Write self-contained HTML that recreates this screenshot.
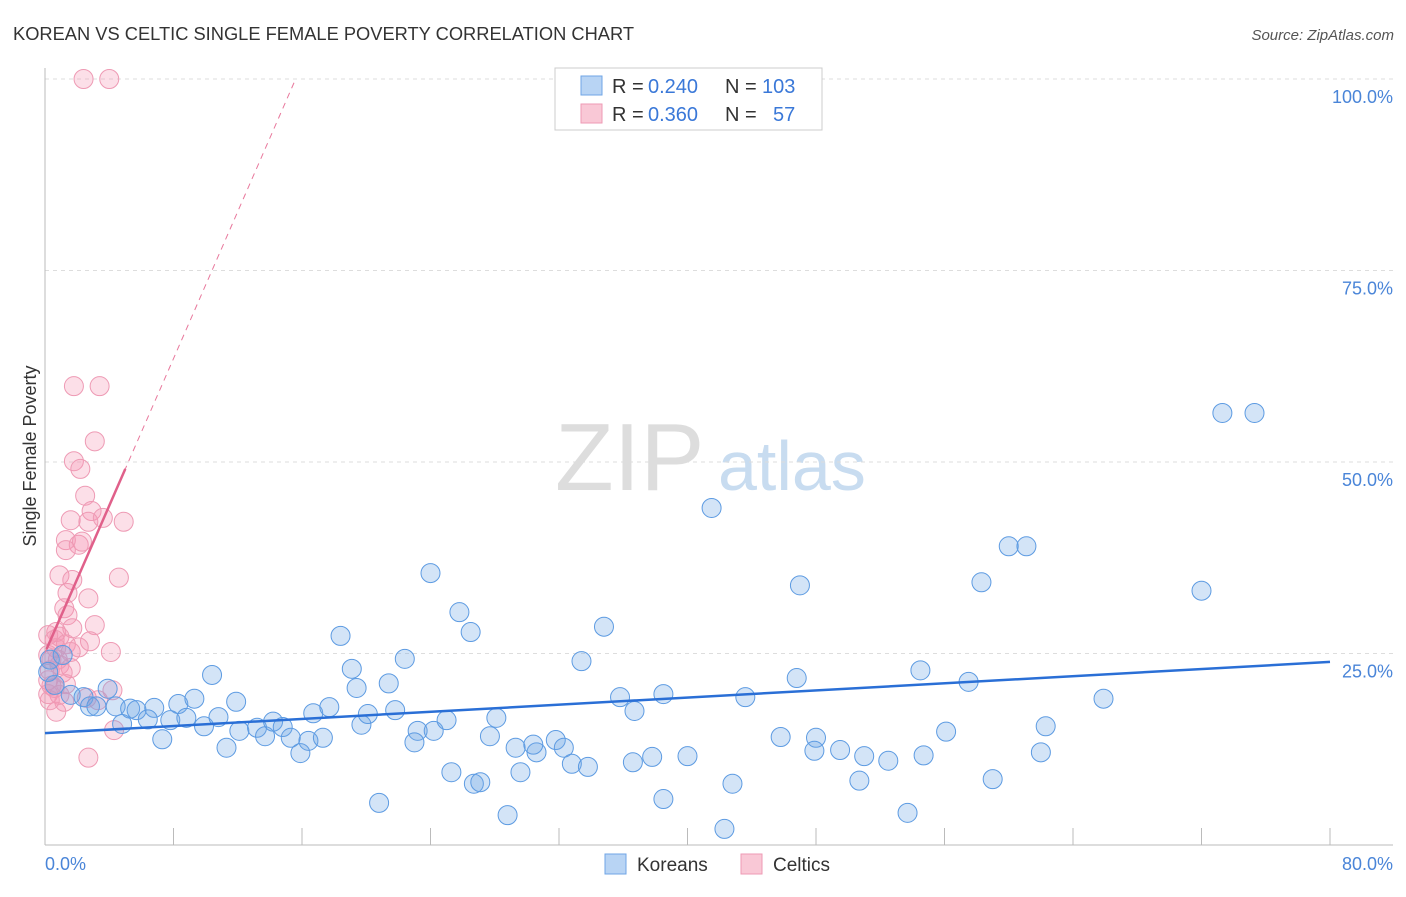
<!DOCTYPE html>
<html><head><meta charset="utf-8"><style>
body{margin:0;background:#fff;font-family:"Liberation Sans",sans-serif}
svg text{font-family:"Liberation Sans",sans-serif}
</style></head><body>
<svg id="c" width="1406" height="892" xmlns="http://www.w3.org/2000/svg">
<text x="13" y="40" font-size="18.3" fill="#333">KOREAN VS CELTIC SINGLE FEMALE POVERTY CORRELATION CHART</text>
<text x="1394" y="40" font-size="15" fill="#555" font-style="italic" text-anchor="end">Source: ZipAtlas.com</text>
<text x="36" y="456" font-size="18" fill="#333" transform="rotate(-90 36 456)" text-anchor="middle">Single Female Poverty</text>
<g><text x="555" y="490" font-size="96" fill="#ddd" font-family="Liberation Serif">ZIP</text><text x="718" y="490" font-size="70" fill="#c8dcf0">atlas</text></g>
<g id="grid"></g><g id="marks"></g>
<g>
<rect x="555" y="68" width="267" height="62" fill="#fff" stroke="#ccc"/>
<rect x="581" y="76" width="21" height="19" fill="#b8d4f4" stroke="#6fa5e6"/>
<rect x="581" y="104" width="21" height="19" fill="#f9c8d6" stroke="#ee9ab4"/>
<text x="612" y="93" font-size="20" fill="#333">R = </text><text x="648" y="93" font-size="20" fill="#3a78d8">0.240</text>
<text x="725" y="93" font-size="20" fill="#333">N = </text><text x="762" y="93" font-size="20" fill="#3a78d8">103</text>
<text x="612" y="121" font-size="20" fill="#333">R = </text><text x="648" y="121" font-size="20" fill="#3a78d8">0.360</text>
<text x="725" y="121" font-size="20" fill="#333">N = </text><text x="773" y="121" font-size="20" fill="#3a78d8">57</text>
</g>
<g>
<rect x="605" y="854" width="21" height="20" fill="#b8d4f4" stroke="#6fa5e6"/>
<text x="637" y="871" font-size="19" fill="#333">Koreans</text>
<rect x="741" y="854" width="21" height="20" fill="#f9c8d6" stroke="#ee9ab4"/>
<text x="773" y="871" font-size="19" fill="#333">Celtics</text>
</g>
</svg>
<script>
const yTicks=[25,50,75,100];
const yTickLabels=["25.0%","50.0%","75.0%","100.0%"];
const xTicks=[0,8,16,24,32,40,48,56,64,72,80];
const koreanX=[73.3,75.3,41.5,60.0,61.1,58.3,47.0,72.0,24.0,25.8,26.5,34.8,18.4,22.4,33.4,10.4,19.1,54.5,57.5,46.8,21.4,19.4,65.9,38.5,35.8,43.6,3.9,8.3,9.3,11.9,36.7,0.6,1.6,2.4,2.8,3.2,4.4,5.3,5.7,6.8,6.4,7.8,8.8,9.9,10.8,4.8,7.3,11.3,12.1,13.2,13.7,14.2,14.8,15.3,15.9,16.4,17.3,16.7,17.7,19.7,20.1,21.8,23.2,23.0,24.2,25.0,28.1,27.7,29.3,30.6,30.4,31.8,32.3,32.8,33.8,36.6,37.8,40.0,45.8,48.0,47.9,49.5,51.0,52.5,54.7,56.1,62.3,62.0,25.3,26.7,27.1,29.6,42.8,50.7,59.0,38.5,20.8,28.8,42.3,53.7,0.3,0.2,1.1];
const koreanY=[56.4,56.4,44.0,39.0,39.0,34.3,33.9,33.2,35.5,30.4,27.8,28.5,27.3,24.3,24.0,22.2,23.0,22.8,21.3,21.8,21.1,20.5,19.1,19.7,19.3,19.3,20.4,18.4,19.1,18.7,17.5,20.9,19.6,19.3,18.1,18.1,18.1,17.8,17.6,17.9,16.4,16.3,16.6,15.5,16.7,15.8,13.8,12.7,14.9,15.3,14.2,16.1,15.4,14.0,12.0,13.6,14.0,17.2,18.0,15.7,17.1,17.6,14.9,13.4,14.9,16.3,16.6,14.2,12.7,12.1,13.1,13.7,12.7,10.6,10.2,10.8,11.5,11.6,14.1,14.0,12.3,12.4,11.6,11.0,11.7,14.8,15.5,12.1,9.5,8.0,8.2,9.5,8.0,8.4,8.6,6.0,5.5,3.9,2.1,4.2,24.2,22.6,24.8];
const celticX=[2.4,4.0,1.8,3.4,3.1,1.8,2.2,2.5,2.9,1.6,2.7,3.6,4.9,1.3,2.1,2.3,1.3,0.9,1.7,4.6,1.4,2.7,1.2,1.4,3.1,1.7,0.7,0.9,0.2,0.6,1.3,0.7,2.8,2.1,4.1,0.4,0.9,1.6,0.3,1.1,0.2,1.3,0.6,0.2,0.9,4.2,2.6,3.3,0.7,4.3,2.7,0.2,0.4,1.2,0.8,1.6,0.3];
const celticY=[100,100,59.9,59.9,52.7,50.1,49.1,45.6,43.6,42.4,42.2,42.7,42.2,39.8,39.2,39.6,38.5,35.2,34.6,34.9,32.9,32.2,30.9,30.0,28.7,28.3,27.8,27.2,27.4,26.8,26.2,25.7,26.6,25.8,25.2,24.2,23.5,23.1,22.8,22.5,21.5,21.0,20.5,19.7,19.6,20.2,19.2,18.9,17.4,15.0,11.4,24.8,20.8,18.7,24.2,25.2,18.9];
const koreanTrend=[14.6,23.9]; // y at x=0, y at x=80
const celticTrend=[25.1,4.8];   // intercept, slope
const sx=v=>45+v/80*1285, sy=v=>845-v/100*766;
const NS="http://www.w3.org/2000/svg";
function mk(tag,attrs,parent){const e=document.createElementNS(NS,tag);for(const k in attrs)e.setAttribute(k,attrs[k]);parent.appendChild(e);return e;}
const g=document.getElementById('grid'),m=document.getElementById('marks');
yTicks.forEach((t,i)=>{
 const l=mk('line',{x1:45,x2:1393,y1:sy(t),y2:sy(t),stroke:'#ddd','stroke-dasharray':'4,4'},g);
 
 
 const tx=mk('text',{x:1393,y:sy(t)+24,'font-size':18,fill:'#4a85d8','text-anchor':'end'},g);
 tx.textContent=yTickLabels[i];
 
 
});
const ya=mk('line',{x1:45,x2:45,y1:68,y2:845,stroke:'#bbb'},g);


const xa=mk('line',{x1:45,x2:1393,y1:845,y2:845,stroke:'#bbb'},g);


xTicks.forEach(t=>{
 const l=mk('line',{x1:sx(t),x2:sx(t),y1:828,y2:845,stroke:'#bbb'},g);
 
 
});
const xl0=mk('text',{x:45,y:870,'font-size':18,fill:'#4a85d8'},g);xl0.textContent='0.0%';


const xl1=mk('text',{x:1393,y:870,'font-size':18,fill:'#4a85d8','text-anchor':'end'},g);xl1.textContent='80.0%';


celticX.forEach((x,i)=>{
 const c=mk('circle',{cx:sx(x),cy:sy(celticY[i]),r:9.5,fill:'rgba(244,150,180,0.3)',stroke:'#ee9ab4','stroke-width':1},m);
 
 
});
koreanX.forEach((x,i)=>{
 const c=mk('circle',{cx:sx(x),cy:sy(koreanY[i]),r:9.5,fill:'rgba(110,165,230,0.3)',stroke:'#5d9be2','stroke-width':1},m);
 
 
});
const kt=mk('line',{x1:sx(0),y1:sy(koreanTrend[0]),x2:sx(80),y2:sy(koreanTrend[1]),stroke:'#2a6fd6','stroke-width':2.5},m);


const cx1=(100-celticTrend[0])/celticTrend[1];
const cd=mk('line',{x1:sx(0),y1:sy(celticTrend[0]),x2:sx(cx1),y2:sy(100),stroke:'#e8789c','stroke-width':1,'stroke-dasharray':'6,5'},m);


const ct=mk('line',{x1:sx(0.1),y1:sy(celticTrend[0]+celticTrend[1]*0.1),x2:sx(5),y2:sy(celticTrend[0]+celticTrend[1]*5),stroke:'#e0608a','stroke-width':2.5},m);


</script>
</body></html>
